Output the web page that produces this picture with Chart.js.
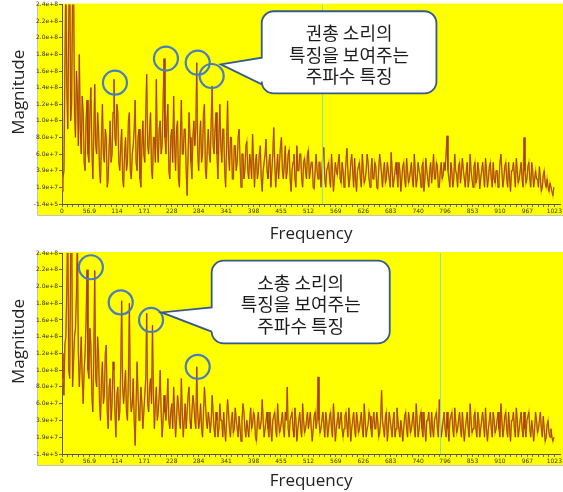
<!DOCTYPE html>
<html>
<head>
<meta charset="utf-8">
<script src="https://cdn.jsdelivr.net/npm/chart.js@4.4.0/dist/chart.umd.min.js"></script>
<style>
  html, body { margin: 0; padding: 0; background: #fff; }
  #wrap { position: relative; width: 563px; height: 492px; overflow: hidden; }
  canvas { position: absolute; left: 0; }
</style>
</head>
<body>
<div id="wrap">
  <canvas id="topChart" width="563" height="245" style="top:0px"></canvas>
  <canvas id="bottomChart" width="563" height="247" style="top:245px"></canvas>
</div>
<script>
'use strict';
// global
let binStep = 2; // one value every 2 frequency bins (0..1022)

// magnitude in units of 1e7 - pistol sound (top), 32 values per row
let topMag = [
  1.5, 3, 4, 16, 28, 14, 9, 22, 30, 10, 12, 26, 27, 11, 8, 16, 13, 7, 18, 9, 6, 13, 11, 5, 4, 10, 12.5, 6, 5, 11, 14, 7,
  3, 8, 14.4, 7, 6, 11, 9, 4, 2.5, 8, 12, 6, 5, 9, 8, 2, 3, 7, 10, 5, 6, 11, 15, 8, 7, 12, 11, 5, 4, 7, 9, 3,
  2, 6, 8, 4, 5, 10, 11, 4, 3, 6, 7, 9, 12.5, 5, 4, 8, 9, 3, 2, 7, 10, 6, 5, 11, 15.6, 7, 6, 9, 11, 4, 3, 8,
  8, 5, 15, 7, 5, 9, 10, 6, 7, 12, 17.5, 8, 6, 10, 12, 4, 3, 8, 9, 5, 13, 7, 4, 9, 10, 3, 2, 8, 12.5, 6, 6, 9,
  9, 4, 1, 6, 11, 8, 5, 3, 8, 10, 7, 9, 17, 6, 4, 8, 10, 5, 6, 11, 12, 4, 3, 7, 9, 6, 5, 10, 14.2, 7, 6, 9,
  11, 6, 3, 8, 12, 7, 5, 9, 9, 4, 2, 7, 12.4, 6, 4, 8, 8, 3, 3, 7, 7, 4, 5, 8, 9, 5, 2, 6, 6, 3, 4, 7,
  7.5, 4, 3, 6, 5, 3, 8.4, 5, 2, 5, 6, 3, 4, 6, 7, 3, 1.5, 4, 5, 6, 7.8, 4, 3, 5, 6, 2, 4, 6, 9.2, 5, 2, 4,
  6, 3, 5, 7, 8, 4, 3, 5, 7, 3, 4, 6, 6.5, 3, 1.5, 4, 5, 6, 3, 2, 7, 4, 4, 6, 6, 3, 2, 5, 5.5, 4, 3, 6,
  6.5, 3, 4, 5, 5, 2, 1.8, 4, 6, 4, 3, 5, 5, 2, 4, 6, 6.8, 3, 2, 4, 4.5, 5, 3, 2, 6, 4, 1.5, 3, 5, 4, 3.5, 5,
  6, 3, 2.5, 5, 4, 2, 3, 5, 6.7, 4, 2, 3, 5, 6, 4, 2, 5.5, 3, 1.5, 4, 4.5, 5, 3, 2, 6, 4, 2.5, 3, 4, 6, 5, 3,
  2, 4, 5.5, 3, 3, 5, 4.5, 2, 1.8, 4, 6, 5, 3.5, 2, 4, 5, 2.5, 3, 5, 4, 3, 2, 6.2, 4, 2, 3, 4, 5, 3.5, 2, 5, 4,
  1.5, 3, 4.5, 5, 3, 2, 5.5, 4, 2.5, 3, 4, 5, 3, 2, 6, 4, 2, 3, 5, 4, 3.5, 2, 4.5, 5, 1.5, 3, 5.5, 4, 3, 2, 4, 5,
  2.5, 4, 6, 3, 3, 5, 4.5, 2, 2, 4, 5, 3, 3.5, 5, 4, 6, 8.2, 4, 3, 2, 5, 4, 2, 3, 6, 4, 3.5, 2, 4.5, 5, 2.5, 4,
  5.5, 4, 3, 2, 4, 5, 2, 3, 6, 4, 3, 2, 4.5, 5, 2.5, 3, 5, 4, 1.8, 3, 4, 5, 3.5, 2, 5.5, 4, 2, 3, 4.5, 5, 3, 2,
  5, 3, 2.5, 4, 4, 2, 3, 5, 6, 4, 2, 3, 4.5, 5, 3, 2, 5, 3, 1.5, 4, 4, 5, 3.5, 2, 5.5, 4, 2.5, 3, 4, 5, 3, 2,
  8, 4, 2.5, 3, 4.5, 5, 3, 2, 5, 4, 2, 3, 4, 3, 3, 2, 4.5, 3, 1.5, 2, 3.5, 4, 2.5, 2, 3, 2, 1.5, 2.5, 2.5, 1.5, 1, 2
];

// magnitude in units of 1e7 - rifle sound (bottom), 32 values per row
let bottomMag = [
  12, 9, 7, 13, 14, 20, 28, 10, 9, 24, 30, 8, 11, 14, 15, 19, 26, 12, 8, 11, 14, 9, 6, 10, 12, 16, 22, 10, 9, 15, 13, 7,
  5, 12, 21.9, 9, 8, 14, 12, 6, 4, 9, 11, 6, 7, 12, 13, 5, 3, 8, 9, 4, 6, 11, 10, 5, 2, 7, 8, 4, 5, 10, 18.3, 8,
  6, 8, 10, 5, 4, 9, 18, 7, 5, 6, 9, 4, 1, 6, 11, 7, 4, 5, 8, 6, 3, 5, 7, 9, 16.8, 6, 5, 8, 9, 6, 15.4, 7,
  3, 6, 8, 4, 5, 7, 10, 5, 2, 4, 7, 5, 4, 6, 9, 4, 3, 5, 6, 3, 8, 5, 2, 4, 7, 6, 4, 3, 9, 5, 2, 4,
  6, 3, 5, 7, 8, 4, 3, 5, 7, 6, 4, 3, 10.4, 5, 3, 4, 6, 3, 2, 5, 8, 6, 4, 3, 5, 4, 2.5, 4, 7, 5, 3, 2,
  5, 4, 2, 3, 6, 4, 4, 2, 5, 3, 1.5, 4, 6.5, 5, 3, 2, 4, 5, 2.5, 3, 5.5, 4, 3, 2, 4.5, 3, 1.5, 4, 6, 5, 3, 2,
  4, 3, 2, 4, 5.5, 3, 3.5, 5, 4.5, 2, 1.5, 4, 5, 3, 3, 4, 6.5, 4, 2, 3, 4, 5, 3, 2, 5, 3, 1.5, 4, 4.5, 5, 3, 2,
  6, 4, 2.5, 3, 4, 5, 3, 2, 5, 4, 8, 3, 2, 4, 4.5, 5, 3, 2, 5.5, 4, 1.5, 3, 4, 5, 3, 2, 6, 4, 2.5, 3, 4, 5,
  3, 4, 5, 3, 1.5, 3, 4.5, 5, 3, 4, 9.2, 4, 2.5, 3, 4, 5, 3.5, 2, 5, 4, 2, 3, 4.5, 5, 3, 2, 6, 4, 1.5, 3, 4, 5,
  3, 4, 5, 3, 2, 3, 4.5, 5, 3.5, 2, 5.5, 4, 1.5, 3, 4, 5, 3, 2, 5, 4, 2.5, 3, 4, 5, 3, 2, 6, 4, 2, 3, 3.5, 5,
  4.5, 3, 2, 4, 5, 3, 3, 5, 4, 2, 2.5, 4, 7.6, 4, 3, 2, 4.5, 5, 1.5, 3, 5, 4, 3, 2, 4, 5, 2, 3, 5.5, 4, 3, 2,
  4, 3, 1.5, 3, 4.5, 5, 3, 2, 5, 4, 2.5, 3, 4, 5, 3, 2, 6, 4, 2, 3, 4.5, 5, 3, 2, 5, 3, 1.5, 4, 4, 5, 3.5, 2,
  5, 3, 2, 4, 4.5, 5, 3, 2, 6.5, 4, 2, 3, 4, 5, 3, 2, 5, 3, 1.5, 4, 4.5, 5, 3, 2, 5.5, 4, 2.5, 3, 4, 5, 3, 2,
  5, 3, 1.5, 3, 4, 5, 3, 2, 6, 4, 2.5, 3, 4.5, 5, 3, 2, 5, 4, 2, 3, 4, 5, 3.5, 2, 5.5, 3, 1.5, 3, 4, 5, 3, 2,
  5, 4, 2.5, 3, 4, 5, 3, 2, 6, 4, 2, 3, 4.5, 5, 3, 2, 5, 3, 1.5, 4, 4, 5, 3, 2, 5.5, 4, 2, 3, 4, 5, 3, 2,
  5, 3, 2, 4, 4.5, 5, 3, 2, 4, 3, 1.5, 3, 5, 4, 2.5, 3, 4, 5, 3, 2, 4.5, 3, 1.5, 2, 3.5, 4, 2.5, 2, 3, 2, 1.5, 2
];

// axis ticks
let xTickValues = [0, 56.9, 114, 171, 228, 284, 341, 398, 455, 512, 569, 626, 683, 740, 796, 853, 910, 967, 1023];
let xTickLabels = ['0', '56.9', '114', '171', '228', '284', '341', '398', '455', '512', '569', '626', '683', '740', '796', '853', '910', '967', '1023'];
let yTickValues = [-0.014, 1.99, 3.99, 6, 8, 10, 12, 14, 16, 18, 20, 22, 24];
let yTickLabels = ['-1.4e+5', '1.9e+7', '3.9e+7', '6.0e+7', '8.0e+7', '1.0e+8', '1.2e+8', '1.4e+8', '1.6e+8', '1.8e+8', '2.0e+8', '2.2e+8', '2.4e+8'];

// cursor line (frequency)
let topCursor = 540;
let bottomCursor = 786;

// circled peaks (frequency, magnitude)
let topCircles = [[110, 14.6], [216, 17.5], [282, 17.0], [311, 15.4]];
let bottomCircles = [[60, 22.3], [122, 18.1], [185, 16.0], [282, 10.4]];

// callouts
let topText = ['권총 소리의', '특징을 보여주는', '주파수 특징'];
let bottomText = ['소총 소리의', '특징을 보여주는', '주파수 특징'];

// minor ticks on the x axis
let xAllTicks = [];
for (let i = 0; i < xTickValues.length; i++) {
    xAllTicks.push(xTickValues[i]);
    if (i < xTickValues.length - 1) {
        let step = (xTickValues[i + 1] - xTickValues[i]) / 5;
        for (let k = 1; k < 5; k++) {
            xAllTicks.push(xTickValues[i] + step * k);
        }
    }
}

// draw callout bubble with a tail pointing left
function drawBubble(ctx, b, xs, ys) {
    let x0 = xs.getPixelForValue(b.x0), x1 = xs.getPixelForValue(b.x1);
    let y0 = ys.getPixelForValue(b.top), y1 = ys.getPixelForValue(b.bottom);
    let ta = ys.getPixelForValue(b.tailTop), tb = ys.getPixelForValue(b.tailBottom);
    let tx = xs.getPixelForValue(b.tipX), ty = ys.getPixelForValue(b.tipY);
    let r = 12;
    ctx.beginPath();
    ctx.moveTo(x0 + r, y0);
    ctx.lineTo(x1 - r, y0);
    ctx.arcTo(x1, y0, x1, y0 + r, r);
    ctx.lineTo(x1, y1 - r);
    ctx.arcTo(x1, y1, x1 - r, y1, r);
    ctx.lineTo(x0 + r, y1);
    ctx.arcTo(x0, y1, x0, y1 - r, r);
    ctx.lineTo(x0, tb);
    ctx.lineTo(tx, ty);
    ctx.lineTo(x0, ta);
    ctx.lineTo(x0, y0 + r);
    ctx.arcTo(x0, y0, x0 + r, y0, r);
    ctx.closePath();
    ctx.fillStyle = '#ffffff';
    ctx.fill();
    ctx.strokeStyle = '#35598a';
    ctx.lineWidth = 1.8;
    ctx.stroke();

    ctx.fillStyle = '#1c1c1c';
    ctx.font = '18px "Noto Sans CJK KR"';
    ctx.textAlign = 'center';
    ctx.textBaseline = 'middle';
    let cx = (x0 + x1) / 2;
    let cy = (y0 + y1) / 2 + 2.5;
    let lh = 21.5;
    for (let i = 0; i < b.lines.length; i++) {
        ctx.fillText(b.lines[i], cx, cy + (i - (b.lines.length - 1) / 2) * lh);
    }
}

let panelPlugin = {
    id: 'panel',
    beforeDraw(chart) {
        let ctx = chart.ctx;
        let a = chart.chartArea;
        ctx.save();
        ctx.fillStyle = '#ffff00';
        ctx.fillRect(37, a.top - 1, chart.width - 37, a.bottom - a.top + 12);
        ctx.strokeStyle = '#c4c4c4';
        ctx.lineWidth = 1;
        ctx.beginPath();
        ctx.moveTo(37.5, a.top - 1);
        ctx.lineTo(37.5, a.bottom + 11.5);
        ctx.lineTo(chart.width, a.bottom + 11.5);
        ctx.stroke();
        // y title
        ctx.fillStyle = '#222';
        ctx.font = '17px "Open Sans"';
        ctx.translate(19, (a.top + a.bottom) / 2 - 12);
        ctx.rotate(-Math.PI / 2);
        ctx.textAlign = 'center';
        ctx.textBaseline = 'middle';
        ctx.fillText('Magnitude', 0, 0);
        ctx.restore();
    },
    afterDatasetsDraw(chart, args, opts) {
        let ctx = chart.ctx;
        let a = chart.chartArea;
        let px = chart.scales.x.getPixelForValue(opts.cursor);
        ctx.save();
        ctx.strokeStyle = '#7fe3b5';
        ctx.lineWidth = 1;
        ctx.beginPath();
        ctx.moveTo(Math.round(px) + 0.5, a.top);
        ctx.lineTo(Math.round(px) + 0.5, a.bottom);
        ctx.stroke();
        ctx.restore();
    },
    afterDraw(chart, args, opts) {
        let ctx = chart.ctx;
        let xs = chart.scales.x, ys = chart.scales.y;
        ctx.save();
        ctx.strokeStyle = '#4a7ebb';
        ctx.lineWidth = 2.2;
        for (let i = 0; i < opts.circles.length; i++) {
            ctx.beginPath();
            ctx.arc(xs.getPixelForValue(opts.circles[i][0]), ys.getPixelForValue(opts.circles[i][1]), 12, 0, Math.PI * 2);
            ctx.stroke();
        }
        drawBubble(ctx, opts.bubble, xs, ys);
        ctx.restore();
    }
};

function makeChart(id, mags, cursor, circles, bubble, padTop, xHeight) {
    let points = [];
    for (let i = 0; i < mags.length; i++) {
        points.push({ x: i * binStep, y: mags[i] });
    }
    let ctx = document.getElementById(id).getContext('2d');
    return new Chart(ctx, {
        type: 'line',
        data: {
            datasets: [{
                // dark trace on top
                data: points,
                borderColor: '#a23400',
                borderWidth: 0.8,
                pointRadius: 0,
                tension: 0,
                order: 1
            }, {
                // light orange halo below
                data: points,
                borderColor: '#d99a1c',
                borderWidth: 1.5,
                pointRadius: 0,
                tension: 0,
                order: 2
            }]
        },
        options: {
            responsive: false,
            animation: false,
            layout: { padding: { top: padTop, right: 2, left: 0, bottom: 0 } },
            plugins: {
                legend: { display: false },
                tooltip: { enabled: false },
                panel: { cursor: cursor, circles: circles, bubble: bubble }
            },
            scales: {
                x: {
                    type: 'linear',
                    min: 0,
                    max: 1035,
                    afterBuildTicks: function (scale) {
                        scale.ticks = xAllTicks.map(function (v) { return { value: v }; });
                    },
                    afterFit: function (scale) { scale.height = xHeight; },
                    grid: { drawOnChartArea: false, tickLength: 3, color: '#666' },
                    border: { color: '#555' },
                    ticks: {
                        autoSkip: false,
                        maxRotation: 0,
                        padding: 1,
                        color: '#333',
                        font: { size: 6, family: 'DejaVu Sans' },
                        callback: function (value) {
                            let k = xTickValues.indexOf(value);
                            return k >= 0 ? xTickLabels[k] : '';
                        }
                    },
                    title: {
                        display: true,
                        text: 'Frequency',
                        color: '#222',
                        font: { size: 17, family: 'Open Sans' },
                        padding: { top: 0, bottom: 1 }
                    }
                },
                y: {
                    type: 'linear',
                    min: -0.014,
                    max: 24,
                    afterBuildTicks: function (scale) {
                        scale.ticks = yTickValues.map(function (v) { return { value: v }; });
                    },
                    afterFit: function (scale) { scale.width = 62; },
                    grid: { drawOnChartArea: false, tickLength: 3, color: '#666' },
                    border: { color: '#555' },
                    ticks: {
                        padding: 1,
                        color: '#333',
                        font: { size: 6, family: 'DejaVu Sans' },
                        callback: function (value, index) {
                            return yTickLabels[index];
                        }
                    }
                }
            }
        },
        plugins: [panelPlugin]
    });
}

makeChart('topChart', topMag, topCursor, topCircles, {
    x0: 415, x1: 778, top: 23.2, bottom: 13.3,
    tailTop: 17.6, tailBottom: 14.4, tipX: 330, tipY: 16.8,
    lines: topText
}, 4, 41);

makeChart('bottomChart', bottomMag, bottomCursor, bottomCircles, {
    x0: 311, x1: 681, top: 23.1, bottom: 13.2,
    tailTop: 17.5, tailBottom: 14.6, tipX: 207, tipY: 16.9,
    lines: bottomText
}, 8, 38);
</script>
</body>
</html>
